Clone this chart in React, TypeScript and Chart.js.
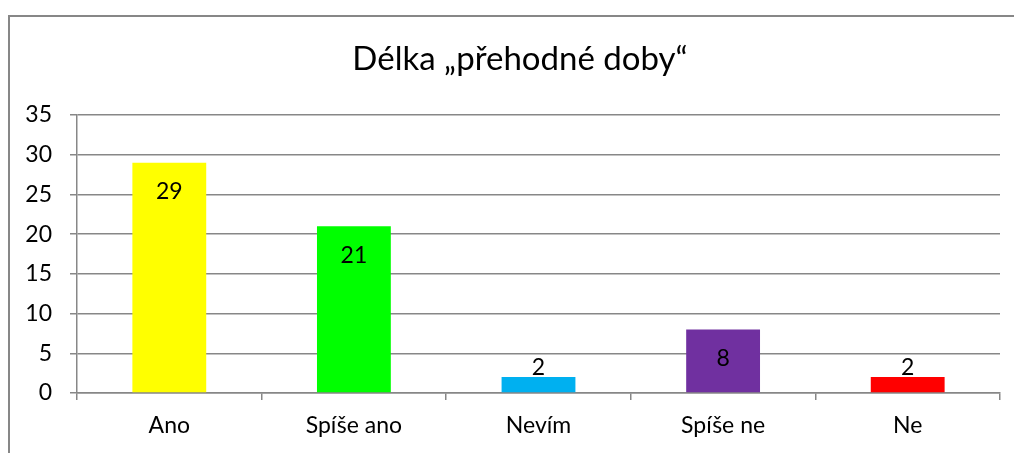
import React, { useEffect, useRef } from "react";
import { Chart, registerables } from "chart.js";

Chart.register(...registerables);

const chartTitle = "Délka „přehodné doby“";
const categories = ["Ano", "Spíše ano", "Nevím", "Spíše ne", "Ne"];
const values = [29, 21, 2, 8, 2];
const barColors = ["#FFFF00", "#00FF00", "#00B0F0", "#7030A0", "#FF0000"];
const yMin = 0;
const yMax = 35;
const yStep = 5;

const FONT = "Lato";
const GRID = "#878787";

const frameAndTitle = {
  id: "frameAndTitle",
  afterDraw(chart: any) {
    const ctx = chart.ctx;
    ctx.save();
    ctx.strokeStyle = GRID;
    ctx.lineWidth = 2;
    ctx.beginPath();
    ctx.moveTo(9, 460);
    ctx.lineTo(9, 16);
    ctx.lineTo(1020, 16);
    ctx.stroke();
    ctx.fillStyle = "#000";
    ctx.font = `33px ${FONT}`;
    ctx.textAlign = "center";
    ctx.textBaseline = "alphabetic";
    ctx.fillText(chartTitle, 520, 70);
    ctx.restore();
  },
};

const dataLabels = {
  id: "dataLabels",
  afterDatasetsDraw(chart: any) {
    const ctx = chart.ctx;
    const meta = chart.getDatasetMeta(0);
    ctx.save();
    ctx.fillStyle = "#000";
    ctx.font = `23px ${FONT}`;
    ctx.textAlign = "center";
    ctx.textBaseline = "middle";
    meta.data.forEach((bar: any, i: number) => {
      const h = bar.base - bar.y;
      const y = h > 40 ? bar.y + 29 : bar.y - 10;
      ctx.fillText(String(values[i]), bar.x, y);
    });
    ctx.restore();
  },
};

export default function App() {
  const ref = useRef<HTMLCanvasElement | null>(null);
  useEffect(() => {
    if (!ref.current) return;
    const chart = new Chart(ref.current, {
      type: "bar",
      data: {
        labels: categories,
        datasets: [
          {
            data: values,
            backgroundColor: barColors,
            borderWidth: 0,
            categoryPercentage: 1,
            barPercentage: 0.4,
          },
        ],
      },
      options: {
        responsive: false,
        animation: false,
        layout: { padding: { left: 0, top: 115, right: 14, bottom: 0 } },
        plugins: {
          legend: { display: false },
          tooltip: { enabled: false },
          title: { display: false },
        },
        scales: {
          x: {
            grid: {
              offset: true,
              drawOnChartArea: false,
              drawTicks: true,
              tickLength: 7,
              color: GRID,
              lineWidth: 1.5,
            },
            border: { display: true, color: GRID, width: 1.5 },
            ticks: {
              color: "#000",
              font: { family: FONT, size: 23 },
              padding: 12,
              maxRotation: 0,
            },
            afterFit(scale: any) {
              scale.height = 60;
            },
          },
          y: {
            min: yMin,
            max: yMax,
            grid: {
              color: GRID,
              lineWidth: 1.5,
              drawTicks: true,
              tickLength: 7,
            },
            border: { display: true, color: GRID, width: 1.5 },
            ticks: {
              stepSize: yStep,
              color: "#000",
              font: { family: FONT, size: 23 },
              padding: 18,
            },
            afterFit(scale: any) {
              scale.width = 77;
            },
          },
        },
      },
      plugins: [dataLabels, frameAndTitle],
    });
    return () => chart.destroy();
  }, []);
  return (
    <div style={{ position: "absolute", left: 0, top: 0, width: 1014, height: 453, background: "#fff" }}>
      <canvas ref={ref} width={1014} height={453} style={{ display: "block" }} />
    </div>
  );
}
